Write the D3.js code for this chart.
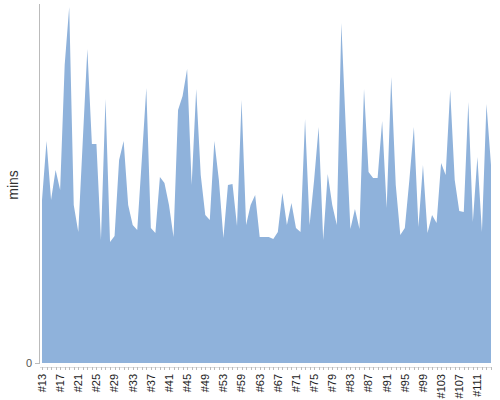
<!DOCTYPE html>
<html><head><meta charset="utf-8">
<script src="https://cdn.jsdelivr.net/npm/d3@7"></script>
<style>body{margin:0;background:#fff}svg{display:block}</style>
</head><body>
<svg id="c" width="500" height="400"></svg>
<script>
const nums = [];
for (let n = 13; n <= 53; n++) nums.push(n);
const middle = [54, 55, 57];
const tail = [];
for (let n = 59; n <= 114; n++) tail.push(n);
const categories = nums.concat(middle, tail).map(n => "#" + n);

const mins = [
  163,222,163,193,173,298,356,158,131,223,314,219,219,123,264,121,127,203,222,158,
  138,133,203,275,135,130,186,180,158,126,253,267,294,178,274,188,148,143,222,183,
  125,178,179,137,263,138,158,168,126,126,126,124,131,170,138,160,135,131,244,138,
  183,236,123,189,158,138,340,233,134,154,134,274,191,185,185,242,155,286,178,128,
  135,183,236,136,198,130,148,140,200,188,273,183,152,151,261,141,206,131,259,198
];
const yTicks = [0];

const svg = d3.select("#c");
const x = d3.scalePoint().domain(categories).range([42, 491]);
const y = d3.scaleLinear().domain([0, 358]).range([363, 5]);

const area = d3.area()
  .x((d, i) => x(categories[i]))
  .y0(y(0))
  .y1(d => y(d));

svg.append("path").datum(mins).attr("d", area).attr("fill", "#8fb2db");

// y axis
svg.append("line").attr("x1", 39.5).attr("x2", 39.5).attr("y1", 4).attr("y2", 364)
  .attr("stroke", "#bbb").attr("stroke-width", 1);
yTicks.forEach(t => {
  svg.append("line").attr("x1", 35).attr("x2", 39).attr("y1", y(t) + 0.5).attr("y2", y(t) + 0.5)
    .attr("stroke", "#bbb");
  svg.append("text").attr("x", 32).attr("y", y(t)).attr("dy", "0.35em").attr("text-anchor", "end")
    .attr("font-family", "Liberation Sans, Arial, sans-serif").attr("font-size", 11).attr("fill", "#555")
    .text(t);
});
svg.append("text").attr("transform", "translate(18,185) rotate(-90)").attr("text-anchor", "middle")
  .attr("font-family", "Liberation Sans, Arial, sans-serif").attr("font-size", 14).attr("fill", "#333")
  .text("mins");

// x axis
const xAxisG = svg.append("g");
xAxisG.append("line").attr("x1", 40).attr("x2", 492).attr("y1", 367.5).attr("y2", 367.5)
  .attr("stroke", "#ddd");
categories.forEach((c, i) => {
  xAxisG.append("line").attr("x1", Math.round(x(c)) + 0.5).attr("x2", Math.round(x(c)) + 0.5)
    .attr("y1", 367).attr("y2", 370).attr("stroke", "#bbb");
  if (i % 4 === 0) {
    xAxisG.append("text").attr("transform", `translate(${x(c)},374) rotate(-90)`)
      .attr("text-anchor", "end").attr("dy", "0.35em")
      .attr("font-family", "Liberation Sans, Arial, sans-serif").attr("font-size", 11).attr("fill", "#222")
      .text(c);
  }
});
</script>
</body></html>
